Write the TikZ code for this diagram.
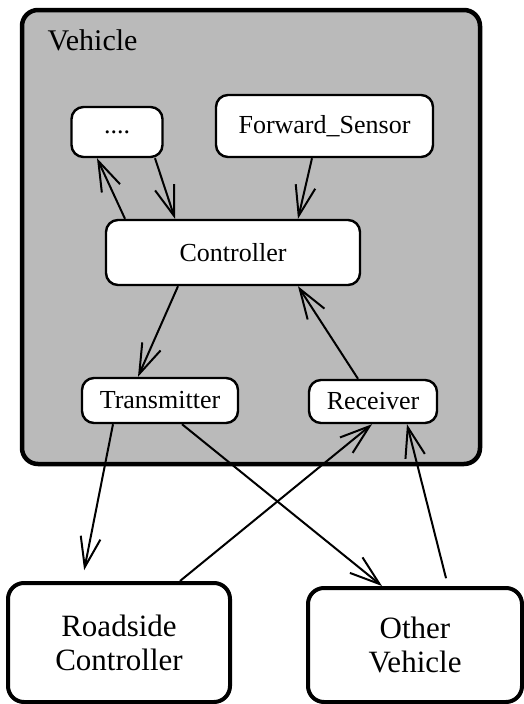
\documentclass[tikz,border=0pt]{standalone}
\usepackage{fontspec}
\setmainfont{Liberation Serif}
\usetikzlibrary{arrows.meta}
\begin{document}
\begin{tikzpicture}[x=1pt,y=-1pt,
  part/.style={draw,line width=2.4pt,rounded corners=12pt,fill=white,
    inner sep=0pt,font=\fontsize{26}{30}\selectfont},
  ext/.style={draw,line width=4pt,rounded corners=16pt,fill=white,
    inner sep=0pt,align=center,font=\fontsize{31}{34}\selectfont},
  arr/.style={line width=2pt,-{Straight Barb[length=30pt,width=20pt,line width=2pt]}}]
  \useasboundingbox (0,0) rectangle (524,704);
  % enclosing vehicle
  \draw[line width=4.5pt,rounded corners=16pt,fill=black!27] (22,10) rectangle (480,464);
  \node[anchor=base west,font=\fontsize{30}{34}\selectfont] (veh) at (44,50) {Vehicle};
  % components inside the vehicle
  \node[part,minimum width=91pt,minimum height=50pt] (dots) at (117,132) {....};
  \node[part,minimum width=217pt,minimum height=62pt] (fwd) at (324.5,126) {Forward\_Sensor};
  \node[part,minimum width=254pt,minimum height=65pt] (ctrl) at (233,252.5) {Controller};
  \node[part,minimum width=156pt,minimum height=45pt] (tx) at (160,400.5) {Transmitter};
  \node[part,minimum width=128pt,minimum height=43pt] (rx) at (373,401.5) {Receiver};
  % external parties
  \node[ext,minimum width=222pt,minimum height=119pt] (road) at (119,642.5) {Roadside\\Controller};
  \node[ext,minimum width=214pt,minimum height=114pt] (other) at (415,645) {Other\\Vehicle};
  % connectors
  \draw[arr] ([xshift=-108pt]ctrl.north) -- ([xshift=-20pt]dots.south);
  \draw[arr] ([xshift=38pt]dots.south) -- ([xshift=-58pt]ctrl.north);
  \draw[arr] ([xshift=-12.5pt]fwd.south) -- ([xshift=65pt]ctrl.north);
  \draw[arr] ([xshift=-55pt]ctrl.south) -- ([xshift=-22pt]tx.north);
  \draw[arr] ([xshift=-15pt]rx.north) -- ([xshift=65pt]ctrl.south);
  \draw[arr,shorten >=11pt] ([xshift=-47pt]tx.south) -- ([xshift=-37pt]road.north);
  \draw[arr] ([xshift=22pt]tx.south) -- ([xshift=-33pt]other.north);
  \draw[arr] ([xshift=61pt]road.north) -- ([xshift=-1pt]rx.south);
  \draw[arr,shorten <=8pt] ([xshift=33pt]other.north) -- ([xshift=34pt]rx.south);
\end{tikzpicture}
\end{document}
